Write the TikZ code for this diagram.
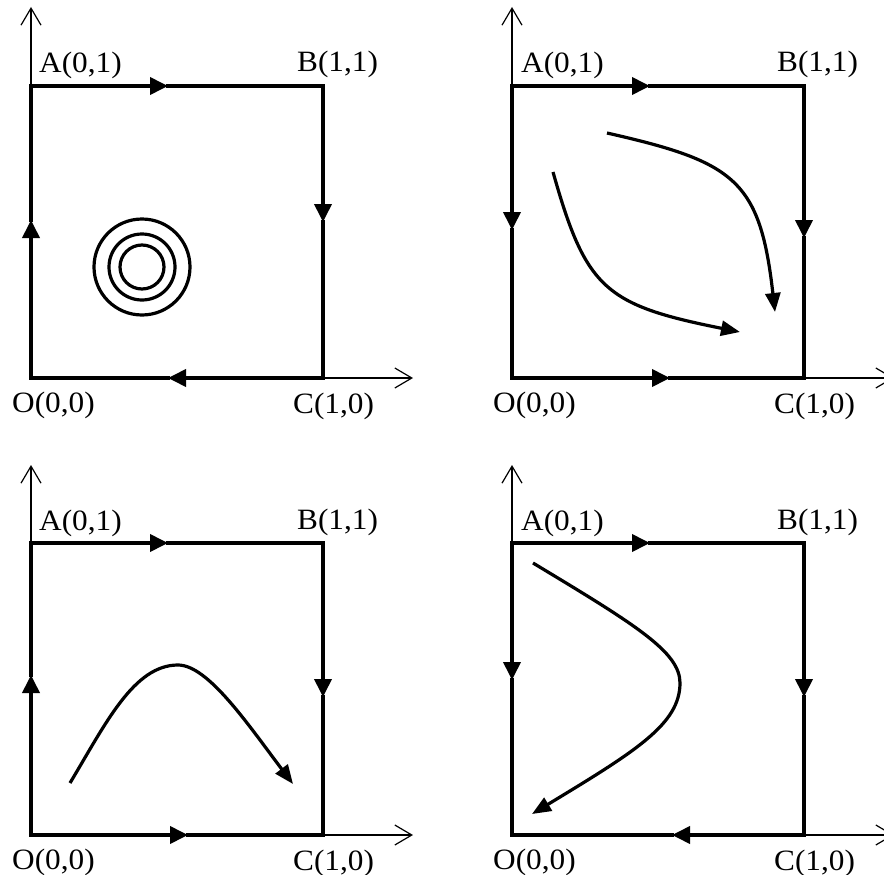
\documentclass[tikz,border=0pt]{standalone}
\usepackage{fontspec}
\setmainfont{Liberation Serif}
\usetikzlibrary{arrows.meta}
\begin{document}
\begin{tikzpicture}[x=1pt,y=-1pt,
  axisline/.style={line width=1.2pt,-{Straight Barb[length=17pt,width=20pt,line width=1.2pt]}},
  headseg/.style={line width=3.8pt,line cap=rect,-{Triangle[length=18pt,width=17pt]}},
  tailseg/.style={line width=3.3pt,line cap=rect},
  flowcurve/.style={line width=3.2pt,-{Triangle[length=19pt,width=15pt]}},
  ring/.style={line width=3.2pt},
  lbl/.style={anchor=base west,inner sep=0pt,font=\fontsize{29.5}{34}\selectfont,xscale=1.06}
]
\useasboundingbox (0,0) rectangle (884,875);

% ---------- Panel 1 ----------
\begin{scope}
  \coordinate (O1) at (31,378); \coordinate (A1) at (31,86);
  \coordinate (B1) at (323,86); \coordinate (C1) at (323,378);
  \coordinate (Y1) at (31,7);   \coordinate (X1) at (413,378);
  \coordinate (oa1) at (31,220); \coordinate (ab1) at (168,86);
  \coordinate (bc1) at (323,222); \coordinate (co1) at (168,378);
  \draw[axisline] (O1) -- (Y1);
  \draw[axisline] (O1) -- (X1);
  \draw[headseg] (O1) -- (oa1); \draw[tailseg] (oa1) -- (A1);
  \draw[headseg] (A1) -- (ab1); \draw[tailseg] (ab1) -- (B1);
  \draw[headseg] (B1) -- (bc1); \draw[tailseg] (bc1) -- (C1);
  \draw[headseg] (C1) -- (co1); \draw[tailseg] (co1) -- (O1);
  \coordinate (ctr1) at (142,267);
  \draw[ring] (ctr1) circle[radius=48];
  \draw[ring] (ctr1) circle[radius=33];
  \draw[ring] (ctr1) circle[radius=22];
  \node[lbl] (lA1) at (39,73) {A(0,1)};
  \node[lbl] (lB1) at (297,72) {B(1,1)};
  \node[lbl] (lO1) at (12,412) {O(0,0)};
  \node[lbl] (lC1) at (293,413) {C(1,0)};
\end{scope}

% ---------- Panel 2 ----------
\begin{scope}[shift={(481,0)}]
  \coordinate (O2) at (31,378); \coordinate (A2) at (31,86);
  \coordinate (B2) at (323,86); \coordinate (C2) at (323,378);
  \coordinate (Y2) at (31,7);   \coordinate (X2) at (413,378);
  \coordinate (ao2) at (31,230); \coordinate (ab2) at (169,86);
  \coordinate (bc2) at (323,238); \coordinate (oc2) at (189,378);
  \draw[axisline] (O2) -- (Y2);
  \draw[axisline] (O2) -- (X2);
  \draw[headseg] (A2) -- (ao2); \draw[tailseg] (ao2) -- (O2);
  \draw[headseg] (A2) -- (ab2); \draw[tailseg] (ab2) -- (B2);
  \draw[headseg] (B2) -- (bc2); \draw[tailseg] (bc2) -- (C2);
  \draw[headseg] (O2) -- (oc2); \draw[tailseg] (oc2) -- (C2);
  \coordinate (p2s) at (126,133); \coordinate (p2e) at (294,312);
  \coordinate (q2s) at (72,172);  \coordinate (q2e) at (259,332);
  \draw[flowcurve] (p2s) .. controls (254,162) and (279,180) .. (p2e);
  \draw[flowcurve] (q2s) .. controls (105,289) and (124,305) .. (q2e);
  \node[lbl] (lA2) at (40,73) {A(0,1)};
  \node[lbl] (lB2) at (296,72) {B(1,1)};
  \node[lbl] (lO2) at (12,412) {O(0,0)};
  \node[lbl] (lC2) at (293,413) {C(1,0)};
\end{scope}

% ---------- Panel 3 ----------
\begin{scope}[shift={(0,457)}]
  \coordinate (O3) at (31,378); \coordinate (A3) at (31,86);
  \coordinate (B3) at (323,86); \coordinate (C3) at (323,378);
  \coordinate (Y3) at (31,8);   \coordinate (X3) at (413,378);
  \coordinate (oa3) at (31,218); \coordinate (ab3) at (168,86);
  \coordinate (bc3) at (323,240); \coordinate (oc3) at (188,378);
  \draw[axisline] (O3) -- (Y3);
  \draw[axisline] (O3) -- (X3);
  \draw[headseg] (O3) -- (oa3); \draw[tailseg] (oa3) -- (A3);
  \draw[headseg] (A3) -- (ab3); \draw[tailseg] (ab3) -- (B3);
  \draw[headseg] (B3) -- (bc3); \draw[tailseg] (bc3) -- (C3);
  \draw[headseg] (O3) -- (oc3); \draw[tailseg] (oc3) -- (C3);
  \coordinate (r3s) at (70,326); \coordinate (r3m) at (178,208);
  \coordinate (r3e) at (293,327);
  \draw[flowcurve] (r3s) .. controls (105.5,267) and (133.6,208) .. (r3m)
                          .. controls (208,208) and (248,267.5) .. (r3e);
  \node[lbl] (lA3) at (39,73) {A(0,1)};
  \node[lbl] (lB3) at (297,72) {B(1,1)};
  \node[lbl] (lO3) at (12,412) {O(0,0)};
  \node[lbl] (lC3) at (293,413) {C(1,0)};
\end{scope}

% ---------- Panel 4 ----------
\begin{scope}[shift={(481,457)}]
  \coordinate (O4) at (31,378); \coordinate (A4) at (31,86);
  \coordinate (B4) at (323,86); \coordinate (C4) at (323,378);
  \coordinate (Y4) at (31,8);   \coordinate (X4) at (413,378);
  \coordinate (ao4) at (31,223); \coordinate (ab4) at (169,86);
  \coordinate (bc4) at (323,240); \coordinate (co4) at (191,378);
  \draw[axisline] (O4) -- (Y4);
  \draw[axisline] (O4) -- (X4);
  \draw[headseg] (A4) -- (ao4); \draw[tailseg] (ao4) -- (O4);
  \draw[headseg] (A4) -- (ab4); \draw[tailseg] (ab4) -- (B4);
  \draw[headseg] (B4) -- (bc4); \draw[tailseg] (bc4) -- (C4);
  \draw[headseg] (C4) -- (co4); \draw[tailseg] (co4) -- (O4);
  \coordinate (s4s) at (52,106); \coordinate (s4m) at (199,226);
  \coordinate (s4e) at (51,357);
  \draw[flowcurve] (s4s) .. controls (155,168) and (199,195) .. (s4m)
                          .. controls (199,267) and (155,294) .. (s4e);
  \node[lbl] (lA4) at (40,73) {A(0,1)};
  \node[lbl] (lB4) at (296,72) {B(1,1)};
  \node[lbl] (lO4) at (12,412) {O(0,0)};
  \node[lbl] (lC4) at (293,413) {C(1,0)};
\end{scope}
\end{tikzpicture}
\end{document}
